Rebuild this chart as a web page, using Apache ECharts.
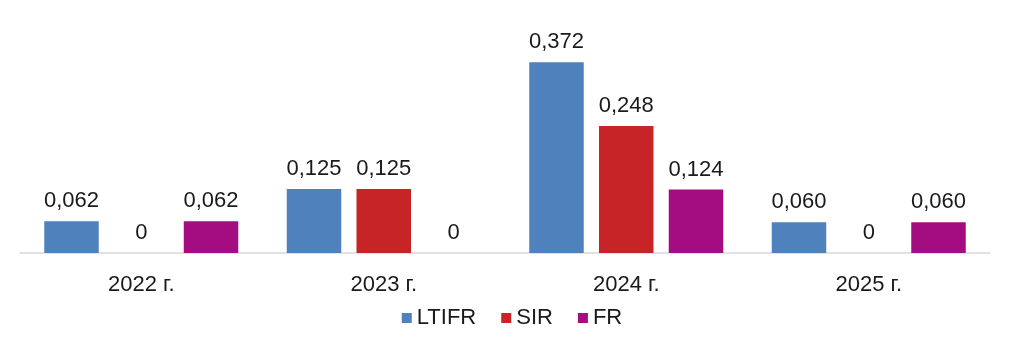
<!DOCTYPE html>
<html>
<head>
<meta charset="utf-8">
<script src="https://cdn.jsdelivr.net/npm/echarts@6/dist/echarts.min.js"></script>
<style>
  html, body { margin: 0; padding: 0; background: #fff; }
  #chart { width: 1024px; height: 351px; }
</style>
</head>
<body>
<div id="chart"></div>
<script>
var years = ['2022 г.', '2023 г.', '2024 г.', '2025 г.'];
var ltifr = [0.062, 0.125, 0.372, 0.060];
var sir = [0, 0.125, 0.248, 0];
var fr = [0.062, 0, 0.124, 0.060];

var chart = echarts.init(document.getElementById('chart'));

var fontFam = 'Liberation Sans, Arial, sans-serif';
var fmt = function (p) {
    return p.value === 0 ? '0' : p.value.toFixed(3).replace('.', ',');
};
var labelCfg = {
    show: true,
    position: 'top',
    distance: 9,
    formatter: fmt,
    color: '#1a1a1a',
    fontSize: 22,
    fontFamily: fontFam
};
function mk(name, data, color) {
    return {
        name: name,
        type: 'bar',
        data: data,
        barGap: '28%',
        barCategoryGap: '20%',
        itemStyle: { color: color },
        label: labelCfg
    };
}

chart.setOption({
    animation: false,
    grid: { left: 20, right: 34, top: 48, bottom: 98 },
    legend: {
        bottom: 17,
        left: 'center',
        icon: 'rect',
        itemWidth: 10,
        itemHeight: 10,
        itemGap: 25,
        textStyle: { fontSize: 22, color: '#1a1a1a', fontFamily: fontFam },
        data: ['LTIFR', 'SIR', 'FR']
    },
    xAxis: {
        type: 'category',
        data: years,
        axisLine: { lineStyle: { color: '#d9d9d9', width: 1.5 } },
        axisTick: { show: false },
        axisLabel: { fontSize: 22, color: '#1a1a1a', margin: 21, fontFamily: fontFam }
    },
    yAxis: {
        type: 'value',
        min: 0,
        max: 0.4,
        show: false
    },
    series: [
        mk('LTIFR', ltifr, '#4f81bd'),
        mk('SIR', sir, '#c62426'),
        mk('FR', fr, '#a30d80')
    ]
});
</script>
</body>
</html>
